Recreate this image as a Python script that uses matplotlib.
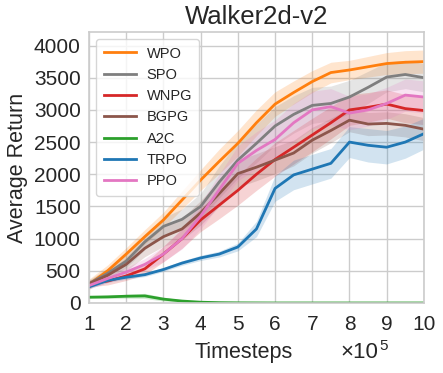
import matplotlib
matplotlib.use("Agg")
import matplotlib.pyplot as plt
import numpy as np

timesteps = [1.0, 1.5, 2.0, 2.5, 3.0, 3.5, 4.0, 4.5, 5.0, 5.5, 6.0, 6.5, 7.0, 7.5, 8.0, 8.5, 9.0, 9.5, 10.0]

wpo = [290, 500, 760, 1030, 1290, 1600, 1910, 2200, 2480, 2800, 3090, 3270, 3440, 3580, 3620, 3670, 3720, 3740, 3750]
spo = [300, 460, 650, 950, 1190, 1300, 1500, 1880, 2220, 2480, 2750, 2930, 3070, 3100, 3200, 3350, 3510, 3550, 3500]
wnpg = [300, 340, 420, 530, 760, 1000, 1290, 1520, 1750, 2000, 2230, 2420, 2610, 2800, 3000, 3040, 3090, 3020, 2990]
bgpg = [300, 430, 600, 850, 1030, 1150, 1400, 1700, 2010, 2110, 2220, 2330, 2530, 2680, 2840, 2780, 2790, 2760, 2700]
a2c = [90, 95, 105, 110, 60, 30, 12, 5, 2, 1, 0, 0, 0, 0, 0, 0, 0, 0, 0]
trpo = [250, 350, 400, 440, 520, 620, 700, 760, 870, 1150, 1780, 1990, 2080, 2170, 2500, 2450, 2420, 2500, 2630]
ppo = [270, 380, 480, 600, 760, 1000, 1350, 1760, 2170, 2370, 2540, 2800, 3000, 3050, 2950, 3000, 3100, 3230, 3200]

wpo_sd = [80, 90, 100, 110, 120, 140, 160, 190, 200, 200, 190, 180, 170, 160, 150, 160, 170, 180, 180]
spo_sd = [60, 80, 100, 120, 140, 160, 200, 250, 280, 300, 300, 290, 280, 270, 260, 250, 230, 220, 220]
wnpg_sd = [50, 60, 70, 90, 120, 150, 180, 210, 230, 250, 260, 260, 260, 250, 240, 230, 220, 220, 220]
bgpg_sd = [50, 70, 100, 130, 150, 170, 190, 200, 210, 210, 210, 200, 200, 190, 180, 180, 180, 180, 180]
a2c_sd = [20, 25, 30, 40, 30, 15, 8, 4, 2, 1, 0, 0, 0, 0, 0, 0, 0, 0, 0]
trpo_sd = [30, 30, 30, 30, 30, 35, 40, 45, 60, 120, 200, 230, 230, 230, 240, 260, 260, 250, 240]
ppo_sd = [50, 60, 70, 90, 120, 160, 200, 240, 270, 290, 300, 300, 290, 280, 260, 250, 250, 250, 250]

labels = ["WPO", "SPO", "WNPG", "BGPG", "A2C", "TRPO", "PPO"]
means = [wpo, spo, wnpg, bgpg, a2c, trpo, ppo]
sds = [wpo_sd, spo_sd, wnpg_sd, bgpg_sd, a2c_sd, trpo_sd, ppo_sd]
colors = ["#ff7f0e", "#7f7f7f", "#d62728", "#8c564b", "#2ca02c", "#1f77b4", "#e377c2"]

plt.rcParams['font.family'] = ['Liberation Sans', 'DejaVu Sans']
text_color = "#262626"

fig = plt.figure(figsize=(4.43, 3.73), dpi=100)
ax = fig.add_axes([0.2009, 0.1877, 0.756, 0.7265])
ax.set_facecolor("white")

x = np.array(timesteps)
for lab, m, s, c in zip(labels, means, sds, colors):
    m = np.array(m, dtype=float)
    s = np.array(s, dtype=float)
    ax.fill_between(x, m - s, m + s, color=c, alpha=0.2, linewidth=0)
    ax.plot(x, m, color=c, linewidth=2, label=lab)

ax.set_xlim(1, 10)
ax.set_ylim(0, 4210)
ax.set_xticks(range(1, 11))
ax.set_yticks(range(0, 4001, 500))
ax.grid(True, color="#cccccc", linewidth=1)
ax.set_axisbelow(True)
for sp in ax.spines.values():
    sp.set_color("#cccccc")
    sp.set_linewidth(1.2)
ax.tick_params(axis="both", labelsize=15, colors=text_color, length=0)
ax.tick_params(axis="x", pad=9)
ax.tick_params(axis="y", pad=6)

ax.set_title("Walker2d-v2", fontsize=18.5, color=text_color, pad=6)
ax.set_ylabel("Average Return", fontsize=15.5, color=text_color, labelpad=4)
fig.text(0.551, 0.040, "Timesteps", fontsize=15.5, color=text_color, ha="center", va="baseline")
t10 = fig.text(0.7675, 0.040, "\u00d710", fontsize=16, color=text_color, ha="left", va="baseline")

fig.canvas.draw()
bb = t10.get_window_extent(renderer=fig.canvas.get_renderer())
x5 = (bb.x1 + 1) / fig.bbox.width
fig.text(x5, 0.062, "5", fontsize=11, color=text_color, ha="left", va="baseline")

leg = ax.legend(loc="upper left", fontsize=10.5, frameon=True, handlelength=2.2,
                borderpad=0.5, labelspacing=0.5, handletextpad=0.75, borderaxespad=0.5)
leg.get_frame().set_edgecolor("#cccccc")
for t in leg.get_texts():
    t.set_color(text_color)

fig.savefig("out.png", dpi=100, facecolor="white")
